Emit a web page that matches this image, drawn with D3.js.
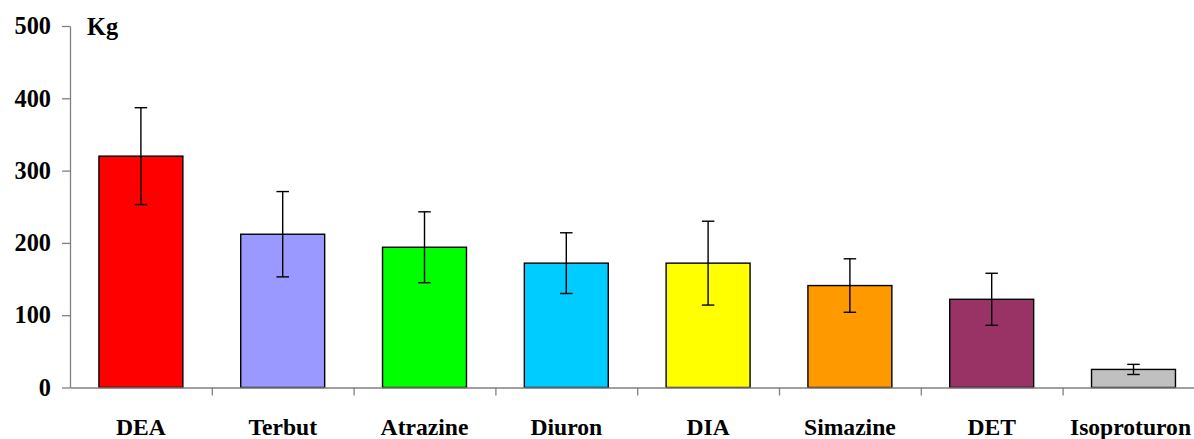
<!DOCTYPE html>
<html>
<head>
<meta charset="utf-8">
<script src="https://cdn.jsdelivr.net/npm/d3@7"></script>
<style>
  html, body { margin: 0; padding: 0; background: #fff; }
  svg { display: block; }
  text { font-family: "Liberation Serif", "Times New Roman", serif; font-weight: bold; fill: #000; }
</style>
</head>
<body>
<svg id="chart" width="1194" height="439"></svg>
<script>
// Pesticide loads (kg) with standard deviation
const categories = ["DEA", "Terbut", "Atrazine", "Diuron", "DIA", "Simazine", "DET", "Isoproturon"];
const loads = [320, 212, 194, 172, 172, 141, 122, 25];
const errors = [67, 59, 49, 42, 58, 37, 36, 7];
const barColors = ["#FF0000", "#9999FF", "#00FF00", "#00CCFF", "#FFFF00", "#FF9900", "#993366", "#C0C0C0"];
const yTicks = [0, 100, 200, 300, 400, 500];
const unitLabel = "Kg";

const svg = d3.select("#chart");
const plotLeft = 70, plotRight = 1204.4, plotTop = 26, plotBottom = 387.5;
const fontSize = 24.3;
const catFontSize = 23.6;

const x = d3.scaleBand().domain(categories).range([plotLeft, plotRight]).paddingInner(0).paddingOuter(0);
const y = d3.scaleLinear().domain([0, 500]).range([plotBottom, plotTop]);
const barW = x.bandwidth() * 0.592;

// bars
svg.append("g").selectAll("rect")
  .data(categories)
  .join("rect")
  .attr("x", (d) => x(d) + (x.bandwidth() - barW) / 2)
  .attr("y", (d, i) => y(loads[i]))
  .attr("width", barW)
  .attr("height", (d, i) => y(0) - y(loads[i]))
  .attr("fill", (d, i) => barColors[i])
  .attr("stroke", "#000")
  .attr("stroke-width", 1.4);

// error bars
const capW = 12.5;
const eb = svg.append("g").attr("stroke", "#000").attr("stroke-width", 1.4);
categories.forEach((c, i) => {
  const cx = x(c) + x.bandwidth() / 2;
  const hi = y(loads[i] + errors[i]);
  const lo = y(loads[i] - errors[i]);
  eb.append("line").attr("x1", cx).attr("x2", cx).attr("y1", hi).attr("y2", lo);
  eb.append("line").attr("x1", cx - capW / 2).attr("x2", cx + capW / 2).attr("y1", hi).attr("y2", hi);
  eb.append("line").attr("x1", cx - capW / 2).attr("x2", cx + capW / 2).attr("y1", lo).attr("y2", lo);
});

// y axis
const yAxis = svg.append("g")
  .attr("transform", `translate(${plotLeft},0)`)
  .call(d3.axisLeft(y).tickValues(yTicks).tickSize(8).tickSizeOuter(0).tickPadding(11));
yAxis.selectAll("path, line").attr("stroke", "#808080").attr("stroke-width", 1.3);
yAxis.selectAll("text")
  .style("font-family", '"Liberation Serif", "Times New Roman", serif')
  .style("font-weight", "bold")
  .style("font-size", fontSize + "px")
  .attr("fill", "#000");

// x axis with ticks on category boundaries
const xb = d3.scaleLinear().domain([0, categories.length]).range([plotLeft, plotRight]);
const xAxis = svg.append("g")
  .attr("transform", `translate(0,${plotBottom})`)
  .call(d3.axisBottom(xb).tickValues(d3.range(1, categories.length + 1)).tickFormat("").tickSize(8).tickSizeOuter(0));
xAxis.selectAll("path, line").attr("stroke", "#808080").attr("stroke-width", 1.3);

// category labels (the last one is pulled in slightly to stay inside the frame)
svg.append("g").selectAll("text")
  .data(categories)
  .join("text")
  .attr("x", (d, i) => x(d) + x.bandwidth() / 2 - (i === categories.length - 1 ? 3 : 0))
  .attr("y", 435)
  .attr("text-anchor", "middle")
  .style("font-size", catFontSize + "px")
  .text((d) => d);

// unit label
svg.append("text")
  .attr("x", 87)
  .attr("y", 35)
  .style("font-size", fontSize + "px")
  .text(unitLabel);
</script>
</body>
</html>
